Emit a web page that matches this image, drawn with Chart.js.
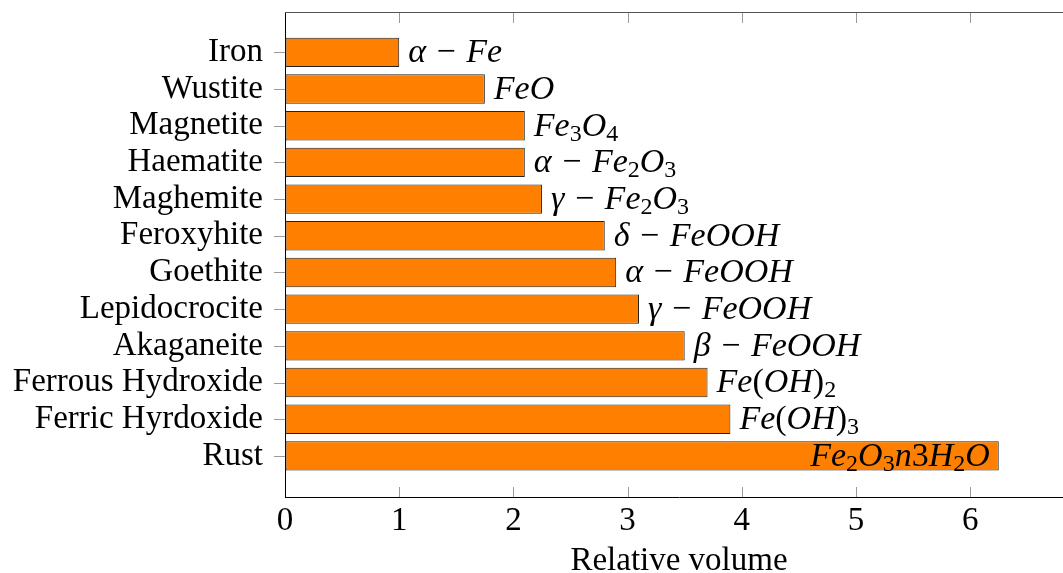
<!DOCTYPE html>
<html>
<head>
<meta charset="utf-8">
<script src="https://cdn.jsdelivr.net/npm/chart.js@4.4.1/dist/chart.umd.min.js"></script>
<style>
  html, body { margin: 0; padding: 0; background: #fff; overflow: hidden; }
  #wrap { width: 1080px; height: 573px; position: relative; }
</style>
</head>
<body>
<div id="wrap"><canvas id="c"></canvas></div>
<script>
const categories = ['Iron','Wustite','Magnetite','Haematite','Maghemite','Feroxyhite','Goethite','Lepidocrocite','Akaganeite','Ferrous Hydroxide','Ferric Hyrdoxide','Rust'];
const values = [1.0, 1.75, 2.1, 2.1, 2.25, 2.8, 2.9, 3.1, 3.5, 3.7, 3.9, 6.25];
const formulas = ['α − Fe','FeO','Fe_3O_4','α − Fe_2O_3','γ − Fe_2O_3','δ − FeOOH','α − FeOOH','γ − FeOOH','β − FeOOH','Fe(OH)_2','Fe(OH)_3','Fe_2O_3n3H_2O'];
const xTicks = [0, 1, 2, 3, 4, 5, 6];

const FONT = '"Liberation Serif", "Times New Roman", serif';
const FS = 33;      // axis text
const FF = 34;      // formula text

function tokenize(s) {
  const out = [];
  for (let i = 0; i < s.length; i++) {
    let ch = s[i], sub = false;
    if (ch === '_') { sub = true; i++; ch = s[i]; }
    if (ch === ' ') { out.push({ ch, space: true }); continue; }
    const ital = /[A-Za-zα-ω]/.test(ch);
    out.push({ ch, sub, ital });
  }
  return out;
}
function segFont(t) {
  const size = t.sub ? Math.round(FF * 0.7) : FF;
  return (t.ital ? 'italic ' : '') + size + 'px ' + FONT;
}
function segWidth(ctx, t) {
  if (t.space) return FF * 0.22;
  ctx.font = segFont(t);
  return ctx.measureText(t.ch).width + (t.ch === '−' ? FF * 0.18 : 0);
}
function measure(ctx, toks) {
  let w = 0;
  for (const t of toks) w += segWidth(ctx, t);
  return w;
}

const labelPlugin = {
  id: 'labels',
  afterDatasetsDraw(chart) {
    const ctx = chart.ctx;
    const meta = chart.getDatasetMeta(0);
    const area = chart.chartArea;
    ctx.save();
    ctx.fillStyle = '#000';
    ctx.textBaseline = 'middle';
    ctx.textAlign = 'left';
    meta.data.forEach((bar, i) => {
      const toks = tokenize(formulas[i]);
      const w = measure(ctx, toks);
      let x = bar.x + 9;
      if (x + w > area.right - 2) x = bar.x - 9 - w;
      const y = bar.y + 1;
      for (const t of toks) {
        const sw = segWidth(ctx, t);
        if (!t.space) {
          ctx.font = segFont(t);
          if (t.ch === '−') {
            ctx.fillText(t.ch, x + FF * 0.09, y);
          } else {
            ctx.fillText(t.ch, x, t.sub ? y + FF * 0.22 : y);
          }
        }
        x += sw;
      }
    });
    ctx.restore();
  },
  afterDraw(chart) {
    const ctx = chart.ctx;
    const a = chart.chartArea;
    const xs = chart.scales.x;
    const ys = chart.scales.y;
    ctx.save();
    ctx.strokeStyle = '#9a9a9a';
    ctx.lineWidth = 1;
    xTicks.forEach(v => {
      if (v === 0) return;
      const px = Math.round(xs.getPixelForValue(v)) + 0.5;
      ctx.beginPath();
      ctx.moveTo(px, a.bottom); ctx.lineTo(px, a.bottom - 10);
      ctx.moveTo(px, a.top); ctx.lineTo(px, a.top + 11);
      ctx.stroke();
    });
    categories.forEach((c, i) => {
      const py = Math.round(ys.getPixelForValue(i)) + 0.5;
      ctx.beginPath();
      ctx.moveTo(a.left - 11, py); ctx.lineTo(a.left, py);
      ctx.stroke();
    });
    ctx.strokeStyle = '#555';
    ctx.beginPath();
    ctx.moveTo(a.left, Math.round(a.top) + 0.5);
    ctx.lineTo(a.right, Math.round(a.top) + 0.5);
    ctx.stroke();
    ctx.restore();
  }
};

new Chart(document.getElementById('c'), {
  type: 'bar',
  data: {
    datasets: [{
      data: categories.map((c, i) => ({ x: values[i], y: i })),
      backgroundColor: '#FF8000',
      borderColor: '#222',
      borderWidth: 1,
      borderSkipped: false,
      barPercentage: 0.8,
      categoryPercentage: 1.0
    }]
  },
  options: {
    indexAxis: 'y',
    responsive: true,
    maintainAspectRatio: false,
    animation: false,
    layout: { padding: { top: 12, right: 7, left: 0, bottom: 0 } },
    plugins: { legend: { display: false }, tooltip: { enabled: false } },
    scales: {
      y: {
        type: 'linear',
        reverse: true,
        offset: false,
        min: -1.10,
        max: 12.12,
        afterBuildTicks(scale) { scale.ticks = categories.map((c, i) => ({ value: i })); },
        afterFit(scale) { scale.width = 285; scale.paddingTop = 0; scale.paddingBottom = 0; },
        ticks: {
          callback: (v) => categories[v] ?? '',
          color: '#000',
          font: { family: FONT, size: FS },
          padding: 11,
          autoSkip: false
        },
        grid: { offset: false, display: true, drawOnChartArea: false, drawTicks: true, tickLength: 11, color: 'rgba(0,0,0,0)' },
        border: { display: true, color: '#000', width: 1 }
      },
      x: {
        type: 'linear',
        min: 0,
        max: 6.9,
        afterBuildTicks(scale) { scale.ticks = xTicks.map(v => ({ value: v })); },
        afterFit(scale) { scale.height = 76; scale.paddingLeft = 0; scale.paddingRight = 0; },
        ticks: {
          color: '#000',
          font: { family: FONT, size: FS },
          padding: 5
        },
        grid: { drawOnChartArea: false, drawTicks: false },
        border: { display: true, color: '#000', width: 1 },
        title: {
          display: true,
          text: 'Relative volume',
          color: '#000',
          font: { family: FONT, size: FS },
          padding: { top: 4, bottom: -8 }
        }
      }
    }
  },
  plugins: [labelPlugin]
});
</script>
</body>
</html>
